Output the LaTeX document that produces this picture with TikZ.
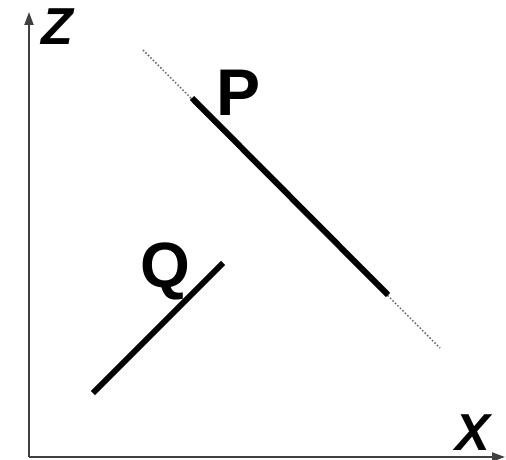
\documentclass[tikz,border=0pt]{standalone}
\usepackage{fontspec}
\setmainfont{Liberation Sans}
\usetikzlibrary{arrows.meta}
\tikzset{
  axis/.style={line width=2pt,black!75,-{Triangle[length=13pt,width=9pt]}},
  segment/.style={line width=6pt,black},
  extension/.style={line width=1.5pt,black!60,dash pattern=on 1.5pt off 2pt},
  letter/.style={inner sep=0pt,anchor=base west,font=\fontsize{#1}{#1}\selectfont\bfseries},
  slanted letter/.style={letter=#1,font=\fontsize{#1}{#1}\selectfont\bfseries\itshape}
}
\begin{document}
\begin{tikzpicture}[x=1pt,y=-1pt]
\useasboundingbox (0,0) rectangle (506,460);
\coordinate (O) at (29,457);
\coordinate (Ztip) at (29,12);
\coordinate (Xtip) at (505,457);
\draw[axis] (O)--(Ztip);
\draw[axis] (O)--(Xtip);
\node[slanted letter=52] (zlabel) at (41,45) {Z};
\node[slanted letter=52] (xlabel) at (455,450) {X};
% line P with its dotted continuation
\coordinate (Pa) at (143,50);
\coordinate (Pb) at (192,98);
\coordinate (Pc) at (388,295);
\coordinate (Pd) at (440,348);
\draw[extension] (Pa)--(Pd);
\draw[segment] (Pb)--(Pc);
\node[letter=66] (plabel) at (216,115) {P};
% line Q
\coordinate (Qa) at (93,393);
\coordinate (Qb) at (223,263);
\draw[segment] (Qa)--(Qb);
\node[letter=64] (qlabel) at (140,287) {Q};
\end{tikzpicture}
\end{document}
